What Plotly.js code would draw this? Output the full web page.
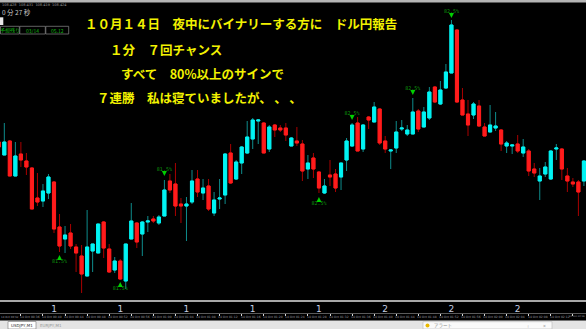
<!DOCTYPE html>
<html>
<head>
<meta charset="utf-8">
<script src="https://cdn.plot.ly/plotly-3.0.1.min.js"></script>
<style>
html,body{margin:0;padding:0;background:#000;}
#chart{width:586px;height:329px;}
</style>
</head>
<body>
<div id="chart"></div>
<script>
// ---- data (price in points) ----
const openP  = [158,145,159,124,146,139,132,102,99,107,118,73,61,67,53,44,24,49,47,78,51,30,39,19,61,77,66,78,81,77,84,119,116,96,94,98,121,107,114,87,101,105,147,121,137,147,161,179,177,151,175,172,172,154,159,156,131,142,128,107,125,126,123,140,154,177,151,183,178,191,159,149,152,171,166,166,189,173,182,213,196,212,227,270,200,186,185,194,173,168,172,170,154,154,156,147,149,131,119,126,121,151,151,124,118,118,119];
const highP  = [160,177,160,158,158,147,133,127,116,126,119,86,74,76,56,55,90,56,76,79,56,43,41,56,97,78,79,84,84,85,120,126,137,102,103,130,130,121,121,108,121,147,156,140,154,179,182,181,178,175,176,175,177,163,173,160,145,147,129,121,140,131,137,162,177,183,176,184,198,192,164,151,179,180,175,202,191,193,213,214,219,236,280,271,212,200,198,200,177,195,188,171,159,155,165,161,151,137,132,138,150,156,152,132,122,120,140];
const lowP   = [151,145,124,124,133,125,91,94,93,101,67,48,47,51,28,7,24,28,47,42,27,27,20,11,61,52,44,68,77,75,84,107,84,77,59,96,103,100,89,84,91,96,116,120,126,146,151,156,147,148,163,168,159,154,154,119,121,122,107,106,114,108,110,129,153,149,148,171,178,155,147,131,147,169,164,166,168,173,180,197,195,211,227,197,185,164,181,173,164,168,169,149,147,146,147,143,124,123,100,123,120,140,120,108,113,84,114];
const closeP = [153,158,124,144,140,133,91,98,109,123,71,54,65,54,47,26,53,56,76,52,28,39,21,56,79,58,78,79,79,83,110,110,94,94,96,119,108,112,91,100,102,146,117,138,153,163,180,180,147,173,170,170,165,162,157,129,137,131,112,114,123,112,137,159,175,149,175,180,193,157,151,150,168,172,170,188,171,188,208,198,210,228,275,198,185,175,196,174,164,175,174,156,157,155,149,153,129,127,124,133,149,152,131,119,116,108,139];

// signals
const sigIndex = [11, 22, 30, 58, 64, 75, 82];
const sigPrice = [45, 18, 124, 103, 180, 205, 282];
const sigDir   = ['up','up','down','up','down','down','down'];
const sigLabel = ['81.5%','81.5%','81.5%','82.5%','82.5%','82.5%','82.5%'];

// axis labels
const hourTickIndex = [10,22,34,46,58,70,82,94,106];
const hourTickText  = ['1','1','1','1','1','2','2','2','2'];
const timeLabels = ['14 Oct 00:32','14 Oct 00:36','14 Oct 00:40','14 Oct 00:44','14 Oct 00:48','14 Oct 00:52','14 Oct 00:56','14 Oct 01:00','14 Oct 01:04','14 Oct 01:08','14 Oct 01:12','14 Oct 01:16','14 Oct 01:20','14 Oct 01:24','14 Oct 01:28','14 Oct 01:32','14 Oct 01:36','14 Oct 01:40','14 Oct 01:44','14 Oct 01:48','14 Oct 01:52','14 Oct 01:56','14 Oct 02:00','14 Oct 02:04','14 Oct 02:08','14 Oct 02:12','14 Oct 02:16'];

const titleLines = [
  '１０月１４日　夜中にバイナリーする方に　ドル円報告',
  '１分　７回チャンス',
  'すべて　80%以上のサインで',
  '７連勝　私は寝ていましたが、\u2009、\u2009、'
];

// ---- build ----
const W = 586, H = 329;
const px = x => x / W;
const py = y => 1 - y / H;

const idx = openP.map((_, i) => i);
const timeTickIdx = timeLabels.map((_, k) => k * 4);
const bodyHi = openP.map((o, i) => Math.max(o, closeP[i]));
const bodyLo = openP.map((o, i) => Math.min(o, closeP[i]));

const wickTrace = {
  type: 'candlestick', x: idx, open: openP, high: highP, low: lowP, close: closeP,
  increasing: {line: {color: '#0e8c8c', width: 1}, fillcolor: '#0e8c8c'},
  decreasing: {line: {color: '#a80000', width: 1}, fillcolor: '#a80000'},
  hoverinfo: 'skip', showlegend: false
};
const bodyTrace = {
  type: 'candlestick', x: idx, open: openP, high: bodyHi, low: bodyLo, close: closeP,
  increasing: {line: {color: '#00f4f4', width: 1}, fillcolor: '#00f4f4'},
  decreasing: {line: {color: '#ff1c1c', width: 1}, fillcolor: '#ff1c1c'},
  hoverinfo: 'skip', showlegend: false
};
const sigTrace = {
  type: 'scatter', mode: 'markers+text',
  x: sigIndex, y: sigPrice, text: sigLabel,
  marker: {symbol: sigDir.map(d => d === 'up' ? 'arrow-up' : 'arrow-down'), size: 5, color: '#00d000', line: {width: 0}},
  textposition: sigDir.map(d => d === 'up' ? 'bottom center' : 'top center'),
  textfont: {size: 5, color: '#0c9a0c', family: 'DejaVu Sans Mono'},
  hoverinfo: 'skip', showlegend: false, cliponaxis: false
};

const annotations = [];
const titlePos = [[83, 23], [108, 49], [119, 73], [95, 97]];
titleLines.forEach((t, k) => annotations.push({
  xref: 'paper', yref: 'paper', x: px(titlePos[k][0]), y: py(titlePos[k][1]),
  xanchor: 'left', yanchor: 'middle', showarrow: false, text: t,
  font: {family: 'Noto Sans CJK JP', size: 12.5, color: '#f2f200', weight: 'bold'}
}));
// time labels under the ticks (first / last kept inside the picture)
const nT = timeLabels.length;
timeLabels.forEach((t, k) => {
  const first = k === 0, last = k === nT - 1;
  annotations.push({
    xref: first || last ? 'paper' : 'x', yref: 'paper',
    x: first ? 0 : (last ? 1 : timeTickIdx[k] + 1.6), y: py(316.8),
    xanchor: first ? 'left' : (last ? 'right' : 'center'), yanchor: 'middle', showarrow: false, text: t,
    borderpad: 0,
    font: {size: last ? 2.4 : (first ? 2.7 : 3.0), color: '#9c9ca4', family: 'DejaVu Sans'}
  });
});
// top-left info
annotations.push({xref:'paper', yref:'paper', x:px(0), y:py(4.5), xanchor:'left', yanchor:'middle', showarrow:false,
  text:'108.428  108.431  108.419  108.424', font:{size:3.5, color:'#9a9a9a', family:'DejaVu Sans'}});
annotations.push({xref:'paper', yref:'paper', x:px(0), y:py(12), xanchor:'left', yanchor:'middle', showarrow:false,
  text:'0 分 27 秒', font:{size:6.5, color:'#c8c8c8', family:'Noto Sans CJK JP'}});
const boxTexts = ['予想残り', '03/14', '05.12'];
const boxX = [[0, 19.3], [19.3, 45.3], [45.3, 68.7]];
boxTexts.forEach((t, k) => annotations.push({xref:'paper', yref:'paper', x:px((boxX[k][0]+boxX[k][1])/2), y:py(30.2),
  xanchor:'center', yanchor:'middle', showarrow:false, text:t, font:{size:5, color:'#10b010', family:'Noto Sans CJK JP'}}));
// bottom tab bar texts
annotations.push({xref:'paper', yref:'paper', x:px(22), y:py(325.5), xanchor:'center', yanchor:'middle', showarrow:false,
  text:'USDJPY,M1', font:{size:4, color:'#333', family:'DejaVu Sans'}});
annotations.push({xref:'paper', yref:'paper', x:px(51), y:py(325.5), xanchor:'center', yanchor:'middle', showarrow:false,
  text:'EURJPY,M1', font:{size:4, color:'#999', family:'DejaVu Sans'}});
annotations.push({xref:'paper', yref:'paper', x:px(432), y:py(325.5), xanchor:'left', yanchor:'middle', showarrow:false,
  text:'アラート', font:{size:4.5, color:'#888', family:'Noto Sans CJK JP'}});
annotations.push({xref:'paper', yref:'paper', x:px(528), y:py(325.5), xanchor:'center', yanchor:'middle', showarrow:false,
  text:'↑', font:{size:4.5, color:'#888'}});
annotations.push({xref:'paper', yref:'paper', x:px(544), y:py(325.5), xanchor:'center', yanchor:'middle', showarrow:false,
  text:'×', font:{size:5, color:'#888'}});

const shapes = [
  // top strip
  {type:'rect', xref:'paper', yref:'paper', x0:0, x1:1, y0:py(2.5), y1:1, fillcolor:'#b4b4b4', line:{width:0}},
  // small white block
  {type:'rect', xref:'paper', yref:'paper', x0:px(0), x1:px(3.3), y0:py(25), y1:py(17.3), fillcolor:'#e8e8e8', line:{width:0}},
  // bottom tab bar
  {type:'rect', xref:'paper', yref:'paper', x0:0, x1:1, y0:0, y1:py(320.5), fillcolor:'#e4e4e4', line:{width:0}},
  {type:'rect', xref:'paper', yref:'paper', x0:px(8), x1:px(36), y0:0, y1:py(321.5), fillcolor:'#ffffff', line:{width:0.6, color:'#777'}},
  {type:'rect', xref:'paper', yref:'paper', x0:px(423), x1:px(552), y0:0, y1:py(321.7), fillcolor:'#fafafa', line:{width:0.6, color:'#bbb'}},
  {type:'circle', xref:'paper', yref:'paper', x0:px(425.5), x1:px(429.5), y0:py(327.5), y1:py(323.5), fillcolor:'#e8b800', line:{width:0}}
];
boxX.forEach(b => shapes.push({type:'rect', xref:'paper', yref:'paper', x0:px(b[0]+0.5), x1:px(b[1]), y0:py(34), y1:py(26.3),
  fillcolor:'rgba(0,0,0,0)', line:{width:0.8, color:'#7a7a7a'}}));

const xr = [1.2/5.52, (W + 1.2)/5.52];

const layout = {
  width: W, height: H, autosize: false,
  margin: {l:0, r:0, t:0, b:0, pad:0},
  paper_bgcolor: '#000', plot_bgcolor: '#000',
  showlegend: false, hovermode: false,
  boxgap: 0.25, boxgroupgap: 0.25,
  xaxis: {
    range: xr, rangeslider: {visible: false}, showgrid: false, zeroline: false,
    showline: true, linecolor: '#a8a8a8', linewidth: 1.5,
    tickmode: 'array', tickvals: hourTickIndex, ticktext: hourTickText,
    ticks: '', tickfont: {size: 9, color: '#c4cee2', family: 'DejaVu Sans'}
  },
  xaxis2: {
    overlaying: 'x', anchor: 'free', position: py(312.6), side: 'bottom',
    range: xr, showgrid: false, zeroline: false,
    showline: true, linecolor: '#5a5a5a', linewidth: 1,
    tickmode: 'array', tickvals: timeTickIdx,
    ticks: 'outside', ticklen: 2, tickcolor: '#d8d8d8', tickwidth: 1,
    showticklabels: false
  },
  yaxis: {
    domain: [29/H, 1], range: [0, 300], visible: false, fixedrange: true
  },
  shapes: shapes,
  annotations: annotations
};

const dummy = {type:'scatter', x:[], y:[], xaxis:'x2', yaxis:'y', showlegend:false, hoverinfo:'skip'};

Plotly.newPlot('chart', [wickTrace, bodyTrace, sigTrace, dummy], layout, {staticPlot: true, displayModeBar: false});
</script>
</body>
</html>
